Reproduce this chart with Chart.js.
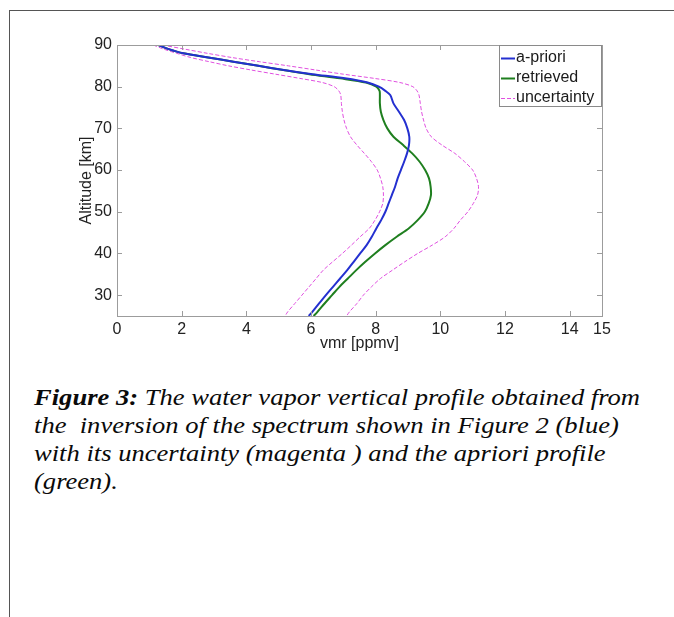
<!DOCTYPE html>
<html>
<head>
<meta charset="utf-8">
<script src="https://cdn.jsdelivr.net/npm/chart.js@4"></script>
<style>
  html, body { margin: 0; padding: 0; background: #fff; }
  body { width: 674px; height: 617px; position: relative; overflow: hidden; }
  #frame { position: absolute; left: 9px; top: 10px; right: 0; bottom: 0;
           border-left: 1px solid #555; border-top: 1px solid #555; }
  #wrap { position: absolute; left: 0; top: 0; width: 674px; height: 370px; }
  #caption { position: absolute; left: 34px; top: 384px; width: 560px;
             font-family: "Liberation Serif", "Times New Roman", serif; font-style: italic;
             font-size: 23px; line-height: 28px; color: #0a0a0a; white-space: pre;
             transform: scaleX(1.155); transform-origin: 0 0; }
</style>
</head>
<body>
<div id="frame"></div>
<div id="wrap"><canvas id="chart"></canvas></div>
<div id="caption"><b>Figure 3:</b> The water vapor vertical profile obtained from
the  inversion of the spectrum shown in Figure 2 (blue)
with its uncertainty (magenta ) and the apriori profile
(green).</div>
<script>
// altitude levels [km]
const altitude = [90, 89, 88, 87, 86, 85, 84, 83, 82, 81, 80, 79, 78, 76, 74, 72, 70, 68, 66, 64,
                  62, 60, 58, 56, 54, 52, 50, 48, 46, 44, 42, 40, 38, 36, 34, 32, 30, 28, 26, 25];

// vmr [ppmv] at each altitude
const apriori = [1.28, 1.6, 2.05, 2.82, 3.6, 4.37, 5.16, 6.05, 7.05, 7.75, 8.1, 8.3, 8.45, 8.55, 8.72, 8.88, 8.98, 9.04, 9.03, 8.97,
                 8.88, 8.78, 8.68, 8.6, 8.5, 8.4, 8.3, 8.17, 8.02, 7.88, 7.72, 7.52, 7.32, 7.12, 6.9, 6.68, 6.46, 6.25, 6.04, 5.93];
const retrieved = [1.28, 1.6, 2.05, 2.82, 3.6, 4.37, 5.14, 5.95, 6.9, 7.7, 8.02, 8.12, 8.13, 8.13, 8.16, 8.24, 8.36, 8.55, 8.85, 9.13,
                   9.36, 9.53, 9.65, 9.7, 9.71, 9.64, 9.52, 9.3, 9.02, 8.65, 8.3, 7.98, 7.68, 7.4, 7.14, 6.88, 6.65, 6.42, 6.2, 6.08];
const uncertLow = [1.12, 1.45, 1.85, 2.28, 2.85, 3.45, 4.15, 4.9, 5.65, 6.35, 6.72, 6.86, 6.92, 6.94, 6.97, 7.02, 7.1, 7.22, 7.42, 7.65,
                   7.87, 8.05, 8.15, 8.22, 8.24, 8.22, 8.12, 7.98, 7.8, 7.52, 7.25, 6.97, 6.67, 6.38, 6.16, 5.94, 5.72, 5.5, 5.28, 5.2];
const uncertHigh = [1.4, 2.1, 2.8, 3.55, 4.4, 5.3, 6.15, 7.0, 7.95, 8.75, 9.15, 9.28, 9.34, 9.38, 9.42, 9.48, 9.56, 9.72, 10.05, 10.45,
                    10.75, 11.0, 11.12, 11.18, 11.15, 11.02, 10.85, 10.62, 10.42, 10.15, 9.75, 9.3, 8.9, 8.52, 8.15, 7.87, 7.62, 7.42, 7.19, 7.1];

const xTicks = [0, 2, 4, 6, 8, 10, 12, 14, 15];
const yTicks = [30, 40, 50, 60, 70, 80, 90];

const toPoints = vals => vals.map((v, i) => ({ x: v, y: altitude[i] }));

// matlab-style box with inward ticks + legend in the top right corner
const boxAndLegend = {
  id: 'boxAndLegend',
  afterDatasetsDraw(chart) {
    const { ctx, chartArea: a, scales: { x, y } } = chart;
    ctx.save();
    ctx.strokeStyle = '#9c9c9c';
    ctx.lineWidth = 1;
    ctx.strokeRect(a.left + 0.5, a.top + 0.5, a.right - a.left, a.bottom - a.top);
    ctx.beginPath();
    x.ticks.forEach(t => {
      const px = Math.round(x.getPixelForValue(t.value)) + 0.5;
      ctx.moveTo(px, a.bottom); ctx.lineTo(px, a.bottom - 5);
      ctx.moveTo(px, a.top); ctx.lineTo(px, a.top + 5);
    });
    y.ticks.forEach(t => {
      const py = Math.round(y.getPixelForValue(t.value)) + 0.5;
      ctx.moveTo(a.left, py); ctx.lineTo(a.left + 5, py);
      ctx.moveTo(a.right, py); ctx.lineTo(a.right - 5, py);
    });
    ctx.stroke();

    // legend
    const items = chart.data.datasets.filter(d => d.label);
    const w = 103, h = 62;
    const lx = a.right - w, ly = a.top;
    ctx.fillStyle = '#fff';
    ctx.fillRect(lx, ly, w, h);
    ctx.strokeStyle = '#8a8a8a';
    ctx.strokeRect(lx + 0.5, ly + 0.5, w - 1, h - 1);
    ctx.font = '16px "Liberation Sans", Arial, sans-serif';
    ctx.textBaseline = 'middle';
    items.forEach((d, i) => {
      const ry = ly + 13 + i * 20;
      ctx.beginPath();
      ctx.strokeStyle = d.borderColor;
      ctx.lineWidth = d.borderWidth;
      ctx.setLineDash(d.borderDash || []);
      ctx.moveTo(lx + 2, ry + 0.5);
      ctx.lineTo(lx + 16, ry + 0.5);
      ctx.stroke();
      ctx.setLineDash([]);
      ctx.fillStyle = '#1a1a1a';
      ctx.fillText(d.label, lx + 17, ry);
    });
    ctx.restore();
  }
};

const tickFont = { family: '"Liberation Sans", Arial, sans-serif', size: 16 };

new Chart(document.getElementById('chart'), {
  type: 'scatter',
  data: {
    datasets: [
      { label: 'a-priori', data: toPoints(apriori), borderColor: '#2430d0', borderWidth: 2 },
      { label: 'retrieved', data: toPoints(retrieved), borderColor: '#1f7f1f', borderWidth: 2 },
      { label: 'uncertainty', data: toPoints(uncertLow), borderColor: '#e050e0', borderWidth: 1, borderDash: [4, 2] },
      { label: '', data: toPoints(uncertHigh), borderColor: '#e050e0', borderWidth: 1, borderDash: [4, 2] }
    ].map(d => Object.assign(d, { showLine: true, pointRadius: 0, tension: 0.3, fill: false }))
  },
  options: {
    responsive: true,
    maintainAspectRatio: false,
    devicePixelRatio: 1,
    animation: false,
    layout: { padding: { left: 0, top: 45, right: 72, bottom: 0 } },
    plugins: { legend: { display: false }, tooltip: { enabled: false } },
    scales: {
      x: {
        type: 'linear', min: 0, max: 15,
        afterBuildTicks: s => { s.ticks = xTicks.map(v => ({ value: v })); },
        afterFit: s => { s.height = 54; },
        grid: { display: false, drawTicks: false },
        border: { display: false },
        ticks: { color: '#222', font: tickFont, padding: 4, maxRotation: 0 },
        title: { display: true, text: 'vmr [ppmv]', color: '#222', font: tickFont, padding: { top: 0, bottom: 17 } }
      },
      y: {
        type: 'linear', min: 25, max: 90,
        afterBuildTicks: s => { s.ticks = yTicks.map(v => ({ value: v })); },
        afterFit: s => { s.width = 117; },
        grid: { display: false, drawTicks: false },
        border: { display: false },
        ticks: { color: '#222', font: tickFont, padding: 5 },
        title: { display: true, text: 'Altitude [km]', color: '#222', font: tickFont, padding: { top: 77, bottom: 0 } }
      }
    }
  },
  plugins: [boxAndLegend]
});
</script>
</body>
</html>
